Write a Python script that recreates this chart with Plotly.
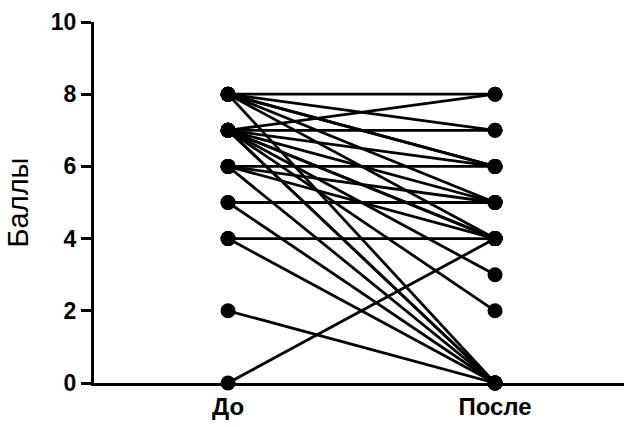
import plotly.graph_objects as go

categories = ["До", "После"]
before = [8, 8, 8, 8, 8, 8, 8,
          7, 7, 7, 7, 7, 7, 7, 7, 7, 7,
          6, 6, 6, 6,
          5, 5,
          4, 4,
          2,
          0]
after = [8, 7, 6, 6, 5, 4, 0,
         8, 7, 6, 5, 4, 4, 3, 2, 0, 0,
         6, 5, 4, 0,
         5, 0,
         4, 0,
         0,
         4]
y_ticks = [0, 2, 4, 6, 8, 10]

xs, ys = [], []
for b, a in zip(before, after):
    xs += [0, 1, None]
    ys += [b, a, None]

fig = go.Figure()
fig.add_trace(go.Scatter(x=xs, y=ys, mode="lines",
                         line=dict(color="black", width=2.8),
                         hoverinfo="skip", cliponaxis=False))
fig.add_trace(go.Scatter(x=[0] * len(before) + [1] * len(after),
                         y=before + after, mode="markers",
                         marker=dict(color="black", size=15),
                         cliponaxis=False))

fig.update_layout(
    width=624, height=427,
    margin=dict(l=94, r=0, t=22, b=44),
    plot_bgcolor="white", paper_bgcolor="white",
    showlegend=False,
    font=dict(family="Arial, Liberation Sans, sans-serif", color="black"),
)
fig.update_xaxes(range=[-0.502, 1.483], tickvals=[0, 1], ticktext=[f"<b>{c}</b>" for c in categories],
                 showline=True, linecolor="black", linewidth=3, ticks="",
                 showgrid=False, zeroline=False,
                 tickfont=dict(size=24, color="black"))
fig.update_yaxes(range=[0, 10], tickvals=y_ticks, ticktext=[f"<b>{t}</b>" for t in y_ticks],
                 showline=True, linecolor="black", linewidth=3, ticks="outside",
                 ticklen=10, tickwidth=3, tickcolor="black",
                 showgrid=False, zeroline=False,
                 tickfont=dict(size=23, color="black"),
                 title=dict(text="Баллы", font=dict(size=29, color="black"), standoff=14))

fig.write_html("out.html")
